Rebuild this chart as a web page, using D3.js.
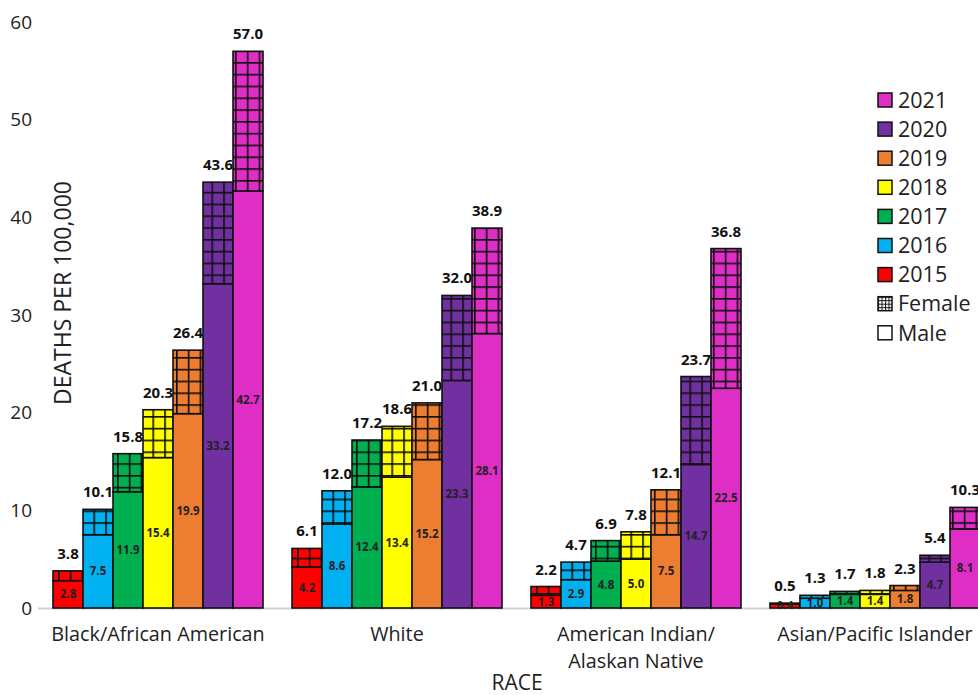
<!DOCTYPE html>
<html>
<head>
<meta charset="utf-8">
<script src="https://cdn.jsdelivr.net/npm/d3@7"></script>
<style>
  html, body { margin: 0; padding: 0; background: #fff; }
  svg { display: block; font-family: "Open Sans", "Noto Sans", sans-serif; }
</style>
</head>
<body>
<svg id="chart" width="978" height="695"></svg>
<script>
// Overdose death rates by race, split into male and female parts, 2015-2021
const races = ["Black/African American", "White", "American Indian/\nAlaskan Native", "Asian/Pacific Islander"];
const years = ["2015", "2016", "2017", "2018", "2019", "2020", "2021"];
const yearColors = ["#FF0000", "#00B0F0", "#00B050", "#FFFF00", "#ED7D31", "#7030A0", "#DE2EC6"];

// Male rate (lower segment) per race, one value per year
const maleBlack = [2.8, 7.5, 11.9, 15.4, 19.9, 33.2, 42.7];
const maleWhite = [4.2, 8.6, 12.4, 13.4, 15.2, 23.3, 28.1];
const maleAIAN  = [1.3, 2.9, 4.8, 5.0, 7.5, 14.7, 22.5];
const maleAsian = [0.4, 1.0, 1.4, 1.4, 1.8, 4.7, 8.1];

// Total rate (male + female) per race, one value per year
const totalBlack = [3.8, 10.1, 15.8, 20.3, 26.4, 43.6, 57.0];
const totalWhite = [6.1, 12.0, 17.2, 18.6, 21.0, 32.0, 38.9];
const totalAIAN  = [2.2, 4.7, 6.9, 7.8, 12.1, 23.7, 36.8];
const totalAsian = [0.5, 1.3, 1.7, 1.8, 2.3, 5.4, 10.3];

const yTicks = [0, 10, 20, 30, 40, 50, 60];

const maleByRace = [maleBlack, maleWhite, maleAIAN, maleAsian];
const totalByRace = [totalBlack, totalWhite, totalAIAN, totalAsian];

const rows = [];
races.forEach((r, i) => {
  years.forEach((y, j) => {
    rows.push({ race: r, year: y, color: yearColors[j], male: maleByRace[i][j], total: totalByRace[i][j] });
  });
});

const svg = d3.select("#chart");

const x0 = d3.scaleBand().domain(races).range([38.5, 994.5]).paddingInner(0.1213).paddingOuter(0.0607);
const x1 = d3.scaleBand().domain(years).range([0, x0.bandwidth()]).padding(0);
const y = d3.scaleLinear().domain([0, 60]).range([608, 22]);

// Grid hatch used for the female segments
const defs = svg.append("defs");
const hatch = defs.append("pattern")
  .attr("id", "grid")
  .attr("patternUnits", "userSpaceOnUse")
  .attr("width", 11.8).attr("height", 11.8)
  .attr("x", 5).attr("y", 3);
hatch.append("line").attr("x1", 0.8).attr("x2", 0.8).attr("y1", 0).attr("y2", 11.8)
  .attr("stroke", "#111").attr("stroke-width", 1.7);
hatch.append("line").attr("x1", 0).attr("x2", 11.8).attr("y1", 0.8).attr("y2", 0.8)
  .attr("stroke", "#111").attr("stroke-width", 1.7);

defs.append("clipPath").attr("id", "plotClip")
  .append("rect").attr("x", 0).attr("y", 0).attr("width", 978).attr("height", 609);

// Y axis labels (no axis line)
const yAxis = d3.axisLeft(y).tickValues(yTicks).tickSize(0).tickPadding(0);
const yg = svg.append("g").attr("transform", "translate(32,0)").call(yAxis);
yg.select(".domain").remove();
yg.selectAll("text").attr("font-size", 19).attr("fill", "#222")
  .attr("font-family", "Open Sans, sans-serif");

// Baseline
svg.append("line").attr("x1", 38).attr("x2", 978).attr("y1", y(0) + 0.5).attr("y2", y(0) + 0.5)
  .attr("stroke", "#d0d0d0").attr("stroke-width", 2);

const groups = svg.append("g").selectAll("g").data(races).join("g")
  .attr("transform", d => `translate(${x0(d)},0)`);

const bars = groups.selectAll("g.bar").data(d => rows.filter(r => r.race === d)).join("g").attr("class", "bar");

// Male segment
bars.append("rect")
  .attr("x", d => x1(d.year)).attr("width", x1.bandwidth())
  .attr("y", d => y(d.male)).attr("height", d => y(0) - y(d.male))
  .attr("fill", d => d.color).attr("stroke", "#111").attr("stroke-width", 1.6);

// Female segment: colour plus hatch
bars.append("rect")
  .attr("x", d => x1(d.year)).attr("width", x1.bandwidth())
  .attr("y", d => y(d.total)).attr("height", d => y(d.male) - y(d.total))
  .attr("fill", d => d.color);
bars.append("rect")
  .attr("x", d => x1(d.year)).attr("width", x1.bandwidth())
  .attr("y", d => y(d.total)).attr("height", d => y(d.male) - y(d.total))
  .attr("fill", "url(#grid)").attr("stroke", "#111").attr("stroke-width", 1.6);

// Male value, inside the lower segment
bars.append("text")
  .attr("clip-path", "url(#plotClip)")
  .attr("x", d => x1(d.year) + x1.bandwidth() / 2)
  .attr("y", d => (y(0) + y(d.male)) / 2)
  .attr("dy", "0.35em")
  .attr("text-anchor", "middle")
  .attr("font-size", 11.5).attr("font-weight", "bold").attr("fill", "#222")
  .text(d => d.male.toFixed(1));

// Total value, above the bar
bars.append("text")
  .attr("x", d => x1(d.year) + x1.bandwidth() / 2)
  .attr("y", d => y(d.total) - 12)
  .attr("text-anchor", "middle")
  .attr("font-size", 15).attr("font-weight", "bold").attr("fill", "#111")
  .text(d => d.total.toFixed(1));

// Category labels
races.forEach(r => {
  const cx = x0(r) + x0.bandwidth() / 2;
  const t = svg.append("text")
    .attr("x", cx)
    .attr("y", 641)
    .attr("text-anchor", "middle")
    .attr("font-size", 19.8).attr("fill", "#222");
  r.split("\n").forEach((line, k) => {
    t.append("tspan").attr("x", cx).attr("dy", k === 0 ? 0 : 27).text(line);
  });
});

// Axis titles
svg.append("text")
  .attr("transform", "translate(71,293) rotate(-90)")
  .attr("text-anchor", "middle")
  .attr("font-size", 23).attr("fill", "#222")
  .text("DEATHS PER 100,000");

svg.append("text")
  .attr("x", 517).attr("y", 690)
  .attr("text-anchor", "middle")
  .attr("font-size", 21).attr("fill", "#222")
  .text("RACE");

// Legend
const legendItems = years.map((yr, j) => ({ label: yr, fill: yearColors[j] })).reverse()
  .concat([{ label: "Female", fill: "url(#legendGrid)" }, { label: "Male", fill: "#fff" }]);

const lgrid = defs.append("pattern")
  .attr("id", "legendGrid").attr("patternUnits", "userSpaceOnUse")
  .attr("width", 3.5).attr("height", 3.5);
lgrid.append("rect").attr("width", 3.5).attr("height", 3.5).attr("fill", "#fff");
lgrid.append("line").attr("x1", 0.5).attr("x2", 0.5).attr("y1", 0).attr("y2", 3.5).attr("stroke", "#111").attr("stroke-width", 1);
lgrid.append("line").attr("x1", 0).attr("x2", 3.5).attr("y1", 0.5).attr("y2", 0.5).attr("stroke", "#111").attr("stroke-width", 1);

const legend = svg.append("g").selectAll("g").data(legendItems).join("g")
  .attr("transform", (d, i) => `translate(878,${100 + i * 29.1})`);
legend.append("rect").attr("x", 0).attr("y", -7).attr("width", 14).attr("height", 14)
  .attr("fill", d => d.fill).attr("stroke", "#111").attr("stroke-width", 1.5);
legend.append("text").attr("x", 20).attr("y", 0).attr("dy", "0.36em")
  .attr("font-size", 21.5).attr("fill", "#222").text(d => d.label);
</script>
</body>
</html>
